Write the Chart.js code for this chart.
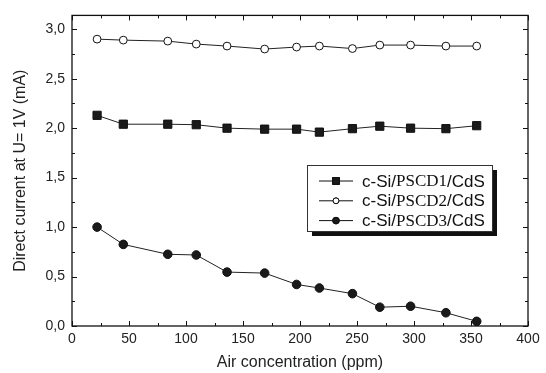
<!DOCTYPE html>
<html>
<head>
<meta charset="utf-8">
<script src="https://cdn.jsdelivr.net/npm/chart.js@4.4.1/dist/chart.umd.min.js"></script>
<style>
  html, body { margin: 0; padding: 0; background: #fff; }
  #wrap { width: 546px; height: 373px; }
</style>
</head>
<body>
<div id="wrap"><canvas id="chart" width="546" height="373"></canvas></div>
<script>
// Data
const airPpm = [22, 45, 84, 109, 136, 169, 197, 217, 246, 270, 297, 328, 355];
const pscd1 = [2.13, 2.04, 2.04, 2.035, 2.0, 1.99, 1.99, 1.96, 1.995, 2.02, 2.0, 1.995, 2.025];
const pscd2 = [2.90, 2.89, 2.88, 2.85, 2.83, 2.80, 2.82, 2.83, 2.805, 2.84, 2.84, 2.83, 2.83];
const pscd3 = [1.0, 0.825, 0.725, 0.718, 0.545, 0.535, 0.42, 0.384, 0.327, 0.19, 0.2, 0.134, 0.047];
const seriesNames = ['c-Si/PSCD1/CdS', 'c-Si/PSCD2/CdS', 'c-Si/PSCD3/CdS'];
const xTicks = [0, 50, 100, 150, 200, 250, 300, 350, 400];
const yTicks = [0, 0.5, 1.0, 1.5, 2.0, 2.5, 3.0];

const sans = "'Liberation Sans', Arial, sans-serif";
const serif = "'Liberation Serif', 'Times New Roman', serif";

const toPoints = vals => airPpm.map((x, i) => ({ x: x, y: vals[i] }));

// inward ticks on all four sides plus the frame
const frameTicks = {
    id: 'frameTicks',
    afterDatasetsDraw(chart) {
        const { ctx, chartArea: a, scales } = chart;
        ctx.save();
        ctx.strokeStyle = '#111';
        ctx.lineWidth = 1.3;
        ctx.strokeRect(a.left, a.top, a.right - a.left, a.bottom - a.top);
        ctx.lineWidth = 1;
        ctx.beginPath();
        for (let v = 0; v <= 400; v += 25) {
            const px = Math.round(scales.x.getPixelForValue(v)) + 0.5;
            const len = v % 50 === 0 ? 5 : 3;
            ctx.moveTo(px, a.bottom); ctx.lineTo(px, a.bottom - len);
            ctx.moveTo(px, a.top); ctx.lineTo(px, a.top + len);
        }
        for (let k = 0; k <= 12; k++) {
            const v = k * 0.25;
            const py = Math.round(scales.y.getPixelForValue(v)) + 0.5;
            const len = k % 2 === 0 ? 5 : 3;
            ctx.moveTo(a.left, py); ctx.lineTo(a.left + len, py);
            ctx.moveTo(a.right, py); ctx.lineTo(a.right - len, py);
        }
        ctx.stroke();
        ctx.restore();
    }
};

// boxed legend with drop shadow, "PSCD" part in a serif face
const boxLegend = {
    id: 'boxLegend',
    afterDraw(chart) {
        const { ctx } = chart;
        const bx = 307, by = 165, bw = 185, bh = 66;
        ctx.save();
        ctx.fillStyle = '#111';
        ctx.fillRect(bx + 5, by + 5, bw, bh);
        ctx.fillStyle = '#fff';
        ctx.fillRect(bx, by, bw, bh);
        ctx.strokeStyle = '#333';
        ctx.lineWidth = 1;
        ctx.strokeRect(bx + 0.5, by + 0.5, bw, bh);
        chart.data.datasets.forEach((ds, i) => {
            const y = by + 16 + i * 19.8;
            ctx.strokeStyle = '#111';
            ctx.beginPath();
            ctx.moveTo(319, y); ctx.lineTo(353, y);
            ctx.stroke();
            Chart.helpers.drawPoint(ctx, {
                pointStyle: ds.pointStyle, radius: ds.pointRadius - 1, borderWidth: 1
            }, 336, y);
            ctx.fillStyle = ds.pointBackgroundColor;
            ctx.strokeStyle = '#111';
            ctx.fill();
            ctx.stroke();
            const parts = ds.label.match(/^(c-Si\/)(PSCD\d)(\/CdS)$/);
            let tx = 362;
            ctx.fillStyle = '#111';
            ctx.textBaseline = 'middle';
            [[parts[1], sans], [parts[2], serif], [parts[3], sans]].forEach(([t, f]) => {
                ctx.font = '17px ' + f;
                ctx.fillText(t, tx, y + 1);
                tx += ctx.measureText(t).width;
            });
        });
        ctx.restore();
    }
};

const lineStyle = (label, vals, style, fill, radius) => ({
    label: label,
    data: toPoints(vals),
    borderColor: '#222',
    borderWidth: 1,
    pointStyle: style,
    pointRadius: radius,
    pointBackgroundColor: fill,
    pointBorderColor: '#111',
    pointBorderWidth: 1,
    tension: 0
});

new Chart(document.getElementById('chart'), {
    type: 'line',
    data: {
        datasets: [
            lineStyle(seriesNames[0], pscd1, 'rect', '#1a1a1a', 5.8),
            lineStyle(seriesNames[1], pscd2, 'circle', '#fff', 3.9),
            lineStyle(seriesNames[2], pscd3, 'circle', '#1a1a1a', 4.3)
        ]
    },
    options: {
        responsive: false,
        animation: false,
        layout: { padding: { left: 0, top: 13, right: 18, bottom: 0 } },
        plugins: {
            legend: { display: false },
            tooltip: { enabled: false }
        },
        scales: {
            x: {
                type: 'linear',
                min: 0,
                max: 400,
                afterBuildTicks: s => { s.ticks = xTicks.map(v => ({ value: v })); },
                afterFit: s => { s.height = 47; },
                grid: { display: false, drawTicks: false },
                border: { display: false },
                ticks: { color: '#222', padding: 5, font: { family: sans, size: 14 } },
                title: {
                    display: true, text: 'Air concentration (ppm)', color: '#222',
                    font: { family: sans, size: 16 }, padding: { top: 2, bottom: 1 }
                }
            },
            y: {
                min: 0,
                max: 3.14,
                afterBuildTicks: s => { s.ticks = yTicks.map(v => ({ value: v })); },
                afterFit: s => { s.width = 72; },
                grid: { display: false, drawTicks: false },
                border: { display: false },
                ticks: {
                    color: '#222', padding: 7, font: { family: sans, size: 14 },
                    callback: v => v.toFixed(1).replace('.', ',')
                },
                title: {
                    display: true, text: 'Direct current at U= 1V (mA)', color: '#222',
                    font: { family: sans, size: 16 }, padding: { top: 11, bottom: 4 }
                }
            }
        }
    },
    plugins: [frameTicks, boxLegend]
});
</script>
</body>
</html>
